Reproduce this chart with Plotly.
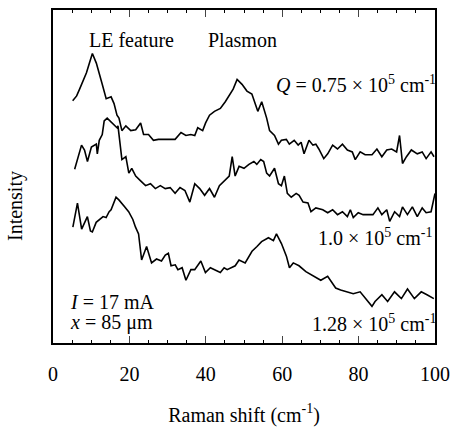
import plotly.graph_objects as go

# Raman shift (cm^-1) and intensity (arb. units)
shift_q075 = [5.15, 6.19, 6.96, 7.73, 8.76, 9.54, 10.31, 11.34, 12.11, 12.89, 13.92, 15.21, 15.98, 16.75,
              17.27, 18.04, 19.07, 20.36, 21.65, 22.94, 23.71, 25.0, 26.29, 27.58, 29.38, 30.67, 31.96,
              33.51, 34.79, 36.08, 37.11, 37.89, 39.18, 39.95, 40.98, 42.27, 43.81, 45.10, 46.13, 47.16,
              48.20, 49.48, 50.77, 52.06, 53.61, 54.64, 55.93, 56.70, 57.99, 59.02, 59.79, 61.08, 61.86,
              63.14, 64.18, 64.95, 65.72, 67.01, 68.04, 68.81, 69.59, 70.88, 71.91, 73.20, 74.48, 75.77,
              77.06, 78.35, 79.12, 80.41, 81.70, 83.51, 84.79, 86.08, 87.37, 88.66, 89.95, 90.72, 91.49,
              92.53, 93.81, 95.36, 96.65, 97.68, 98.97, 99.74]
int_q075 = [251, 256, 263, 270, 280, 290, 300, 290, 280, 268, 253, 255, 248, 236,
            233, 220, 225, 220, 221, 228, 216, 216, 210, 211, 211, 211, 211,
            218, 215, 216, 215, 223, 220, 228, 236, 240, 243, 250, 256, 263,
            273, 268, 261, 258, 240, 250, 233, 220, 215, 206, 210, 211, 206,
            210, 205, 208, 196, 210, 205, 206, 201, 191, 196, 205, 201, 206,
            200, 198, 190, 198, 195, 195, 201, 193, 200, 201, 198, 215, 186,
            193, 200, 196, 198, 191, 198, 193]

shift_q100 = [5.67, 6.44, 7.47, 8.25, 9.02, 10.05, 11.34, 11.60, 12.11, 12.89, 13.40, 14.18, 15.46, 16.75,
              17.01, 17.53, 18.04, 19.07, 19.85, 20.62, 21.65, 22.94, 24.23, 25.52, 26.80, 28.09, 29.38,
              30.67, 31.96, 33.25, 34.54, 35.82, 37.11, 38.40, 39.69, 40.98, 42.27, 43.56, 44.85, 46.13,
              46.91, 47.68, 48.71, 50.0, 51.29, 52.58, 53.35, 54.38, 55.15, 55.93, 56.70, 57.99, 59.02,
              59.79, 60.57, 61.34, 62.37, 63.66, 64.43, 65.46, 66.75, 67.53, 68.81, 70.62, 71.91, 73.20,
              74.48, 75.77, 77.06, 77.84, 78.61, 79.90, 81.19, 82.47, 83.76, 85.05, 86.08, 87.37, 88.14,
              89.43, 90.72, 91.49, 92.78, 94.07, 95.36, 96.65, 97.68, 98.97, 99.74, 100.0]
int_q100 = [180, 190, 205, 200, 188, 203, 206, 196, 210, 216, 230, 233, 228, 223,
            225, 208, 190, 193, 176, 181, 173, 168, 163, 165, 160, 163, 160,
            161, 155, 161, 158, 146, 165, 160, 153, 160, 151, 163, 168, 173,
            193, 173, 183, 181, 185, 188, 185, 190, 188, 176, 173, 181, 165,
            163, 173, 155, 151, 155, 153, 146, 145, 136, 140, 138, 135, 138,
            133, 136, 131, 138, 130, 135, 133, 133, 133, 140, 133, 138, 126,
            136, 131, 141, 133, 141, 131, 140, 135, 136, 148, 155]

shift_q128 = [5.2, 6.4, 7.5, 8.2, 9.0, 9.8, 10.3, 11.3, 12.1, 13.1, 13.9, 14.7, 15.2, 16.5, 17.3, 18.0,
              18.8, 19.8, 20.9, 21.6, 22.4, 23.2, 23.7, 24.5, 25.8, 27.1, 28.4, 29.4, 30.2, 30.9, 32.0,
              32.7, 33.8, 34.8, 36.1, 37.1, 38.7, 39.9, 41.2, 42.3, 43.8, 44.8, 45.6, 47.7, 48.7, 50.3,
              52.1, 53.4, 54.6, 56.4, 57.7, 58.5, 59.8, 61.1, 61.9, 62.9, 64.4, 66.2, 68.3, 70.1, 71.9,
              74.0, 75.3, 77.1, 78.6, 80.4, 81.7, 82.7, 83.5, 84.3, 86.1, 87.6, 89.4, 91.2, 92.8, 94.6,
              96.4, 97.9, 99.7]
int_q128 = [120, 145, 118, 125, 131, 116, 115, 125, 128, 131, 130, 136, 138, 151, 148, 145,
            141, 136, 128, 120, 113, 86, 91, 100, 83, 87, 85, 91, 93, 80, 81,
            76, 78, 65, 76, 76, 85, 73, 78, 76, 73, 78, 76, 80, 86, 83,
            95, 100, 105, 109, 106, 113, 103, 90, 78, 83, 80, 74, 69, 65, 69,
            57, 55, 53, 51, 53, 47, 42, 38, 43, 50, 43, 53, 46, 56, 46,
            53, 50, 46]

x_ticks = [0, 20, 40, 60, 80, 100]

serif = "Liberation Serif, Times New Roman, serif"
fig = go.Figure()
for xs, ys in [(shift_q075, int_q075), (shift_q100, int_q100), (shift_q128, int_q128)]:
    fig.add_trace(go.Scatter(x=xs, y=ys, mode="lines",
                             line=dict(color="black", width=1.6), showlegend=False))

ann = [
    dict(x=20.5, y=314, text="LE feature", xanchor="center", xshift=0),
    dict(x=49.5, y=314, text="Plasmon", xanchor="center", xshift=0),
    dict(x=100, y=268, text="<i>Q</i> = 0.75 × 10<sup>5</sup> cm<sup>-1</sup>", xanchor="right", xshift=3),
    dict(x=99.3, y=110, text="1.0 × 10<sup>5</sup> cm<sup>-1</sup>", xanchor="right", xshift=2),
    dict(x=100, y=21, text="1.28 × 10<sup>5</sup> cm<sup>-1</sup>", xanchor="right", xshift=3),
    dict(x=4.0, y=43, text="<i>I</i> = 17 mA", xanchor="left", xshift=0),
    dict(x=4.0, y=21, text="<i>x</i> = 85 μm", xanchor="left", xshift=0),
]
for a in ann:
    fig.add_annotation(xref="x", yref="y", showarrow=False, yanchor="middle",
                       font=dict(family=serif, size=20, color="black"), **a)

# y-axis title placed as a rotated annotation (sits below the axis centre in the reference)
fig.add_annotation(xref="paper", yref="paper", x=-0.098, y=0.41, text="Intensity",
                   textangle=-90, showarrow=False, xanchor="center", yanchor="middle",
                   font=dict(family=serif, size=20, color="black"))

fig.update_layout(
    width=458, height=431,
    margin=dict(l=53, r=17, t=8, b=78),
    paper_bgcolor="white", plot_bgcolor="white",
    font=dict(family=serif, size=20, color="black"),
    xaxis=dict(range=[0, 100], tickvals=x_ticks, ticks="inside", ticklen=7, tickwidth=1.3,
               showline=True, linecolor="black", linewidth=1.6, mirror="allticks",
               showgrid=False, zeroline=False, ticklabelstandoff=12,
               minor=dict(dtick=5, ticks="inside", ticklen=3.5, tickwidth=1.1, tickcolor="black", showgrid=False),
               tickfont=dict(family=serif, size=20),
               title=dict(text="Raman shift (cm<sup>-1</sup>)", font=dict(family=serif, size=20), standoff=24)),
    yaxis=dict(range=[0, 345], showticklabels=False, ticks="",
               showline=True, linecolor="black", linewidth=1.6, mirror=True,
               showgrid=False, zeroline=False),
)
fig.write_html("out.html")
